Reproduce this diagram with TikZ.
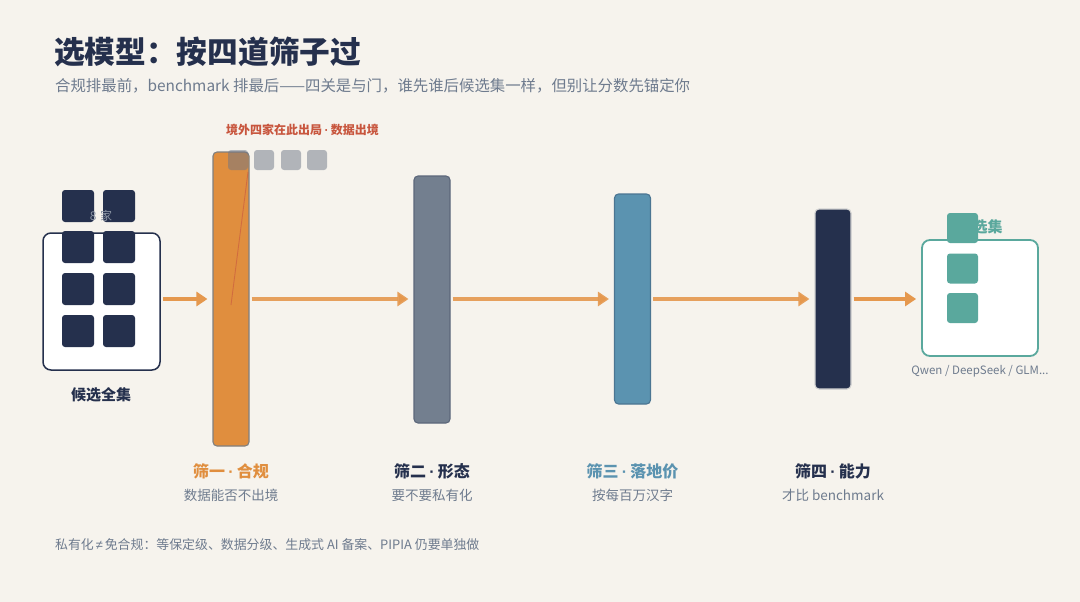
\documentclass[tikz,border=0pt]{standalone}
\usepackage{fontspec}
\setmainfont{Noto Sans CJK SC}
\newfontfamily\latinf{Liberation Sans}
\usetikzlibrary{arrows.meta}
\definecolor{bg}{HTML}{F6F3ED}
\definecolor{navy}{HTML}{25304D}
\definecolor{txtgray}{HTML}{6E7B8E}
\definecolor{orng}{HTML}{E08E3E}
\definecolor{arrorng}{HTML}{E5984E}
\definecolor{slate}{HTML}{737F8F}
\definecolor{steel}{HTML}{5B93B0}
\definecolor{teal}{HTML}{5AA89D}
\definecolor{redlab}{HTML}{C8563E}
\definecolor{sqgray}{HTML}{6E7687}
\newcommand{\mdot}{\hspace{0.2em}{\latinf\bfseries ·}\hspace{0.2em}}
\tikzset{
  bar/.style={rectangle, rounded corners=4pt, minimum width=36pt, inner sep=0pt, line width=1.1pt},
  arr/.style={draw=arrorng, line width=4pt, -{Triangle[length=11pt,width=14pt]}},
  sq/.style={rectangle, rounded corners=3pt, inner sep=0pt, fill=navy, minimum width=32pt, minimum height=32pt},
  gsq/.style={rectangle, rounded corners=3pt, inner sep=0pt, fill=sqgray, fill opacity=0.5, minimum width=20pt, minimum height=20pt},
  tsq/.style={rectangle, rounded corners=3pt, inner sep=0pt, fill=teal, minimum width=31pt, minimum height=30pt},
  stitle/.style={font=\bfseries\fontsize{16}{18}\selectfont, inner sep=0pt},
  ssub/.style={font=\fontsize{13.5}{16}\selectfont, text=txtgray, inner sep=0pt},
}
\begin{document}
\begin{tikzpicture}[x=1pt, y=-1pt]
\fill[bg] (0,0) rectangle (1080,602);
\useasboundingbox (0,0) rectangle (1080,602);
% title
\node[anchor=west, inner sep=0pt, text=navy, font=\bfseries\fontsize{30.7}{34}\selectfont] (title) at (54,51.5) {选模型：按四道筛子过};
\node[anchor=west, inner sep=0pt, text=txtgray, font=\fontsize{15.4}{18}\selectfont] (subtitle) at (55,86) {合规排最前，benchmark 排最后——四关是与门，谁先谁后候选集一样，但别让分数先锚定你};
% left box
\node[rectangle, rounded corners=8pt, draw=navy, line width=1.5pt, fill=white, minimum width=117pt, minimum height=137pt, inner sep=0pt] (cand) at (101.5,301.5) {};
\node[sq] (c1) at (78,206) {};
\node[sq] (c2) at (119,206) {};
\node[sq] (c3) at (78,247) {};
\node[sq] (c4) at (119,247) {};
\node[sq] (c5) at (78,289) {};
\node[sq] (c6) at (119,289) {};
\node[sq] (c7) at (78,331) {};
\node[sq] (c8) at (119,331) {};
\node[inner sep=0pt, text=txtgray!80, font=\fontsize{12}{14}\selectfont] (eight) at (101,216) {8\hspace{3.5pt}家};
\node[inner sep=0pt, text=navy, font=\bfseries\fontsize{15}{18}\selectfont] (candlab) at (101,395) {候选全集};
% bars
\node[bar, fill=orng, draw=gray, minimum height=294pt] (f1) at (231,299) {};
\node[bar, fill=slate, draw=slate!70!navy, minimum height=247pt] (f2) at (432,299.5) {};
\node[bar, fill=steel, draw=steel!70!navy, minimum height=210pt] (f3) at (632.5,299) {};
\node[bar, fill=navy, draw=gray!35, minimum height=180pt] (f4) at (833,299) {};
% out marker
\coordinate (ra) at (248,172);
\coordinate (rb) at (231,305);
\draw[redlab, draw opacity=0.6, line width=0.9pt] (ra) -- (rb);
\node[gsq] (g1) at (238,160) {};
\node[gsq] (g2) at (264,160) {};
\node[gsq] (g3) at (291,160) {};
\node[gsq] (g4) at (317,160) {};
\node[anchor=west, inner sep=0pt, text=redlab, font=\bfseries\fontsize{12}{14}\selectfont] (outlab) at (226,130) {境外四家在此出局\mdot 数据出境};
% right box
\node[rectangle, rounded corners=8pt, draw=teal, line width=1.8pt, fill=white, minimum width=116pt, minimum height=116pt, inner sep=0pt] (sel) at (980,298) {};
\node[inner sep=0pt, text=teal, font=\bfseries\fontsize{15}{18}\selectfont] (sellab) at (980,227) {候选集};
\node[tsq] (t1) at (962.5,228) {};
\node[tsq] (t2) at (962.5,268.5) {};
\node[tsq] (t3) at (962.5,308) {};
\node[inner sep=0pt, text=txtgray, font=\fontsize{11.5}{14}\selectfont] (qwen) at (980,371) {Qwen / DeepSeek / GLM...};
% arrows
\draw[arr] ([xshift=2pt]cand.east |- f1.west) -- ([xshift=-5pt]f1.west);
\draw[arr, draw opacity=0.9] ([xshift=2pt]f1.east) -- ([xshift=-5pt]f2.west |- f1.east);
\draw[arr, draw opacity=0.9] ([xshift=2pt]f2.east |- f1.east) -- ([xshift=-5pt]f3.west);
\draw[arr, draw opacity=0.9] ([xshift=2pt]f3.east) -- ([xshift=-5pt]f4.west);
\draw[arr] ([xshift=2pt]f4.east) -- ([xshift=-5pt]sel.west |- f4.east);
% stage labels
\node[stitle, text=orng] (l1) at (231,471) {筛一\mdot 合规};
\node[ssub] (s1) at (231,495) {数据能否不出境};
\node[stitle, text=navy] (l2) at (432,471) {筛二\mdot 形态};
\node[ssub] (s2) at (432,495) {要不要私有化};
\node[stitle, text=steel] (l3) at (632.5,471) {筛三\mdot 落地价};
\node[ssub] (s3) at (632.5,495) {按每百万汉字};
\node[stitle, text=navy] (l4) at (833,471) {筛四\mdot 能力};
\node[ssub] (s4) at (833,495) {才比 benchmark};
% footnote
\node[anchor=west, inner sep=0pt, text=txtgray, font=\fontsize{12.9}{15}\selectfont] (foot) at (55,545) {私有化\hspace{0.15em}{\latinf ≠}\hspace{0.15em}免合规：等保定级、数据分级、生成式 AI 备案、PIPIA 仍要单独做};
\end{tikzpicture}
\end{document}
